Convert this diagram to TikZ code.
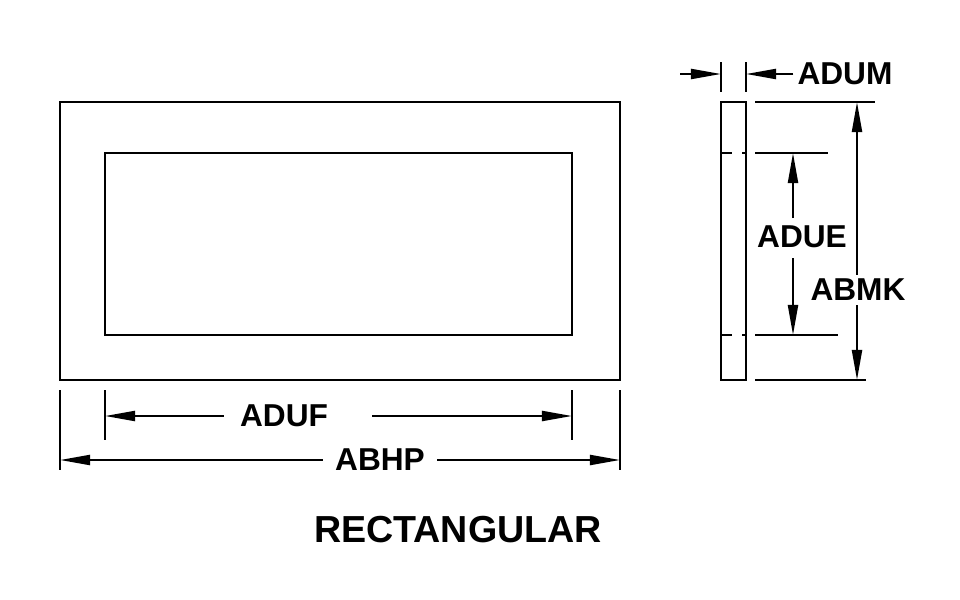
\documentclass[tikz,border=0pt]{standalone}
\usepackage{fontspec}
\setmainfont{Liberation Sans}
\usetikzlibrary{arrows.meta}
\tikzset{
	part/.style={line width=0.75pt},
	dimline/.style={line width=0.6pt},
	dimarrow/.style={line width=0.6pt, -{Triangle[length=0.3cm,width=0.1cm]}},
	dimlabel/.style={font=\bfseries\fontsize{9}{10}\selectfont, inner sep=1pt},
}
\begin{document}
\begin{tikzpicture}[x=0.01cm,y=-0.01cm]
	\useasboundingbox (0,0) rectangle (960,600);
	
	% ---------------------
	% Front view
	\draw[part] (60,102) rectangle (620,380);
	\draw[part] (105,153) rectangle (572,335);
	
	% ---------------------
	% Side view
	\draw[part] (721,102) rectangle (746,380);
	\draw[dimline, dash pattern=on 3pt off 3pt] (721,153) -- (746,153);
	\draw[dimline, dash pattern=on 3pt off 3pt] (721,335) -- (746,335);
	
	% ---------------------
	% Extension lines
	\draw[dimline] (755,102) -- (875,102);
	\draw[dimline] (755,153) -- (828,153);
	\draw[dimline] (755,335) -- (838,335);
	\draw[dimline] (755,380) -- (866,380);
	\draw[dimline] (721,62) -- (721,92);
	\draw[dimline] (746,62) -- (746,92);
	\draw[dimline] (105,390) -- (105,440);
	\draw[dimline] (572,390) -- (572,440);
	\draw[dimline] (60,390) -- (60,470);
	\draw[dimline] (620,390) -- (620,470);
	
	% ---------------------
	% Labels
	\node[dimlabel] (ADUM) at (845,74) {ADUM};
	\node[dimlabel] (ADUE) at (802,237) {ADUE};
	\node[dimlabel] (ABMK) at (858,290) {ABMK};
	\node[dimlabel] (ADUF) at (284,416) {ADUF};
	\node[dimlabel] (ABHP) at (380,460) {ABHP};
	\node[font=\bfseries\fontsize{10.7}{12}\selectfont] (title) at (458,530) {RECTANGULAR};
	
	% ---------------------
	% Dimension arrows
	\coordinate (ADUMleft) at (680,74);
	\draw[dimarrow] (ADUMleft) -- (721,74);
	\draw[dimarrow] (ADUM.west) -- (746,74);
	
	\draw[dimarrow] (793,218) -- (793,153);
	\draw[dimarrow] (793,258) -- (793,335);
	
	\draw[dimarrow] (ABMK.north -| 857,0) -- (857,102);
	\draw[dimarrow] (ABMK.south -| 857,0) -- (857,380);
	
	\draw[dimarrow] (ADUF.west) ++(-12,0) -- (105,416);
	\draw[dimarrow] (ADUF.east) ++(40,0) -- (572,416);
	
	\draw[dimarrow] (ABHP.west) ++(-8,0) -- (60,460);
	\draw[dimarrow] (ABHP.east) ++(8,0) -- (620,460);
\end{tikzpicture}
\end{document}
